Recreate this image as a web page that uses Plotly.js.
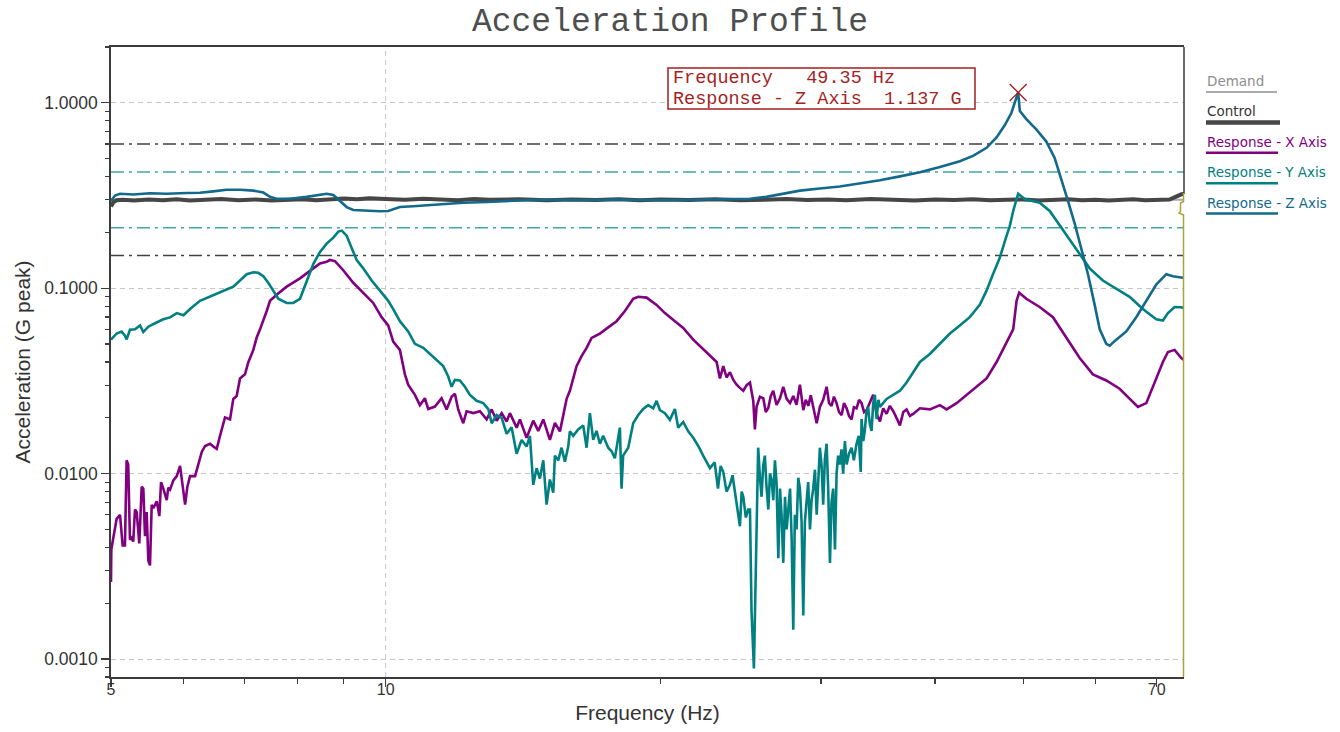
<!DOCTYPE html>
<html>
<head>
<meta charset="utf-8">
<script src="https://cdn.plot.ly/plotly-3.0.1.min.js"></script>
<style>
html,body{margin:0;padding:0;background:#fff;}
#chart{width:1340px;height:732px;}
</style>
</head>
<body>
<div id="chart"></div>
<script>
// ---- Sine sweep acceleration profile (G peak vs Hz) ----

const seriesNames = ['Demand', 'Control', 'Response - X Axis', 'Response - Y Axis', 'Response - Z Axis'];

// Demand profile
const demandFreq = [5, 75];
const demandAccel = [0.3, 0.3];

// Control channel
const controlFreq = [
  5.0, 5.03, 5.07, 5.15, 5.3, 5.5, 5.7, 5.9, 6.1, 6.3,
  6.6, 6.9, 7.2, 7.5, 7.8, 8.1, 8.4, 8.7, 9.0, 9.3,
  9.6, 10.0, 10.5, 11, 11.5, 12, 12.5, 13, 14, 15,
  16, 17, 18, 19, 20, 21.5, 23, 24.5, 26, 27.5,
  29, 30.5, 32, 34, 36, 38, 40, 42, 44, 46,
  48, 50, 52, 54, 56, 58, 60, 62, 64, 66,
  68, 70, 71.5, 72.3, 73, 73.8, 74.5, 75
];
const controlAccel = [
  0.276, 0.291, 0.298, 0.300, 0.297, 0.301, 0.298, 0.302, 0.297, 0.300,
  0.303, 0.298, 0.301, 0.297, 0.300, 0.302, 0.298, 0.303, 0.305, 0.302,
  0.306, 0.303, 0.300, 0.304, 0.301, 0.298, 0.303, 0.300, 0.302, 0.298,
  0.301, 0.299, 0.302, 0.298, 0.301, 0.299, 0.302, 0.298, 0.300, 0.303,
  0.299, 0.301, 0.298, 0.303, 0.300, 0.297, 0.301, 0.299, 0.302, 0.298,
  0.300, 0.301, 0.297, 0.299, 0.302, 0.298, 0.300, 0.297, 0.299, 0.302,
  0.298, 0.300, 0.299, 0.301, 0.307, 0.316, 0.321, 0.322
];

// Response - X axis
const xFreq = [
  5.000, 5.004, 5.029, 5.072, 5.115, 5.149, 5.179, 5.201, 5.222, 5.245,
  5.267, 5.289, 5.312, 5.335, 5.370, 5.403, 5.425, 5.448, 5.471, 5.494,
  5.517, 5.541, 5.564, 5.612, 5.649, 5.673, 5.706, 5.755, 5.778, 5.804,
  5.852, 5.903, 5.952, 5.993, 6.028, 6.063, 6.104, 6.182, 6.234, 6.287,
  6.340, 6.420, 6.473, 6.529, 6.584, 6.667, 6.752, 6.808, 6.866, 6.924,
  7.012, 7.071, 7.161, 7.222, 7.283, 7.344, 7.407, 7.469, 7.595, 7.790,
  8.056, 8.331, 8.473, 8.617, 8.690, 8.799, 8.985, 9.215, 9.450, 9.691,
  9.899, 10.065, 10.193, 10.366, 10.498, 10.585, 10.767, 10.904, 11.041, 11.135,
  11.324, 11.516, 11.663, 11.811, 11.910, 12.010, 12.163, 12.267, 12.475, 12.687,
  12.903, 13.068, 13.234, 13.403, 13.571, 13.684, 13.918, 14.034, 14.272, 14.514,
  14.699, 14.886, 15.137, 15.330, 15.525, 15.655, 15.789, 15.920, 16.054, 16.190,
  16.397, 16.606, 16.817, 17.173, 17.537, 17.912, 18.292, 18.679, 18.918, 19.322,
  19.815, 20.235, 20.752, 21.192, 21.735, 22.200, 22.671, 23.056, 23.248, 23.447,
  23.640, 23.845, 24.050, 24.250, 24.450, 24.661, 24.870, 25.080, 25.289, 25.394,
  25.503, 25.720, 25.937, 26.100, 26.268, 26.430, 26.597, 26.820, 27.054, 27.279,
  27.513, 27.750, 27.976, 28.210, 28.450, 28.693, 28.870, 29.058, 29.240, 29.421,
  29.679, 29.920, 30.170, 30.434, 30.620, 30.815, 31.000, 31.208, 31.400, 31.606,
  31.800, 32.009, 32.200, 32.409, 32.600, 32.822, 33.030, 33.240, 33.450, 33.664,
  33.950, 34.228, 34.529, 34.816, 35.100, 35.407, 35.700, 36.007, 36.300, 36.618,
  36.930, 37.239, 37.550, 37.862, 38.513, 39.494, 40.506, 41.193, 42.247, 43.323,
  44.433, 45.566, 46.733, 47.932, 48.736, 49.152, 49.480, 50.38, 52.10, 53.88,
  55.73, 57.64, 59.60, 61.64, 63.75, 65.38, 66.77, 68.19, 69.93, 71.11,
  72.02, 73.24, 74.49, 75.0
];
const xAccel = [
  0.0026, 0.0039, 0.0045, 0.0057, 0.0060, 0.0041, 0.0041, 0.0118, 0.0112, 0.0044,
  0.0045, 0.0043, 0.0064, 0.0062, 0.0042, 0.0085, 0.0083, 0.0046, 0.0062, 0.0034,
  0.0032, 0.0068, 0.0065, 0.0071, 0.0059, 0.0090, 0.0083, 0.0072, 0.0084, 0.0082,
  0.0092, 0.0097, 0.0110, 0.0083, 0.0068, 0.0085, 0.0097, 0.0097, 0.0112, 0.0131,
  0.0141, 0.0145, 0.0140, 0.0136, 0.0160, 0.0201, 0.0196, 0.0253, 0.0262, 0.0326,
  0.0343, 0.0399, 0.0465, 0.0542, 0.0600, 0.0664, 0.0754, 0.0855, 0.0922, 0.102,
  0.113, 0.128, 0.136, 0.139, 0.142, 0.140, 0.125, 0.107, 0.0946, 0.0833,
  0.0698, 0.0630, 0.0515, 0.0465, 0.0343, 0.0302, 0.0266, 0.0234, 0.0255, 0.0223,
  0.0230, 0.0255, 0.0222, 0.0260, 0.0270, 0.0222, 0.0187, 0.0217, 0.0212, 0.0217,
  0.0196, 0.0222, 0.0193, 0.0212, 0.0191, 0.0212, 0.0177, 0.0196, 0.0156, 0.0193,
  0.0170, 0.0196, 0.0152, 0.0188, 0.0169, 0.0207, 0.0253, 0.0280, 0.0326, 0.0380,
  0.0430, 0.0477, 0.0540, 0.0569, 0.0615, 0.0664, 0.0754, 0.0877, 0.0899, 0.0890,
  0.0813, 0.0734, 0.0663, 0.0610, 0.0528, 0.0477, 0.0430, 0.0400, 0.0326, 0.0380,
  0.0330, 0.0352, 0.0320, 0.0302, 0.0290, 0.0280, 0.0300, 0.0310, 0.0247, 0.0173,
  0.0230, 0.0260, 0.0255, 0.0215, 0.0226, 0.0262, 0.0280, 0.0235, 0.0255, 0.0294,
  0.0253, 0.0240, 0.0262, 0.0235, 0.0302, 0.0220, 0.0250, 0.0232, 0.0265, 0.0229,
  0.0187, 0.0229, 0.0250, 0.0294, 0.0240, 0.0232, 0.0260, 0.0240, 0.0215, 0.0207,
  0.0240, 0.0225, 0.0205, 0.0196, 0.0228, 0.0225, 0.0250, 0.0240, 0.0215, 0.0220,
  0.0245, 0.0266, 0.0210, 0.0191, 0.0225, 0.0210, 0.0232, 0.0217, 0.0200, 0.0182,
  0.0215, 0.0222, 0.0205, 0.0210, 0.0225, 0.0222, 0.0234, 0.0222, 0.0240, 0.0266,
  0.0294, 0.0326, 0.0400, 0.0515, 0.0600, 0.0855, 0.0946, 0.0877, 0.0792, 0.0698,
  0.0542, 0.0420, 0.0343, 0.0318, 0.0287, 0.0253, 0.0229, 0.0240, 0.0326, 0.0400,
  0.0453, 0.0465, 0.0420, 0.0410
];

// Response - Y axis
const yFreq = [
  5.000, 5.072, 5.136, 5.179, 5.201, 5.245, 5.312, 5.380, 5.425, 5.494,
  5.588, 5.706, 5.804, 5.903, 6.004, 6.104, 6.259, 6.420, 6.584, 6.693,
  6.808, 6.924, 7.043, 7.161, 7.252, 7.344, 7.436, 7.530, 7.626, 7.790,
  7.920, 8.056, 8.192, 8.331, 8.473, 8.617, 8.763, 8.874, 8.952, 9.063,
  9.178, 9.295, 9.450, 9.653, 9.857, 10.065, 10.193, 10.366, 10.585, 10.767,
  10.996, 11.182, 11.373, 11.564, 11.711, 11.811, 11.910, 12.061, 12.215, 12.370,
  12.580, 12.793, 12.956, 13.068, 13.234, 13.403, 13.571, 13.743, 13.918, 14.095,
  14.272, 14.392, 14.514, 14.637, 14.759, 14.886, 15.011, 15.137, 15.266, 15.330,
  15.459, 15.589, 15.721, 15.854, 15.920, 16.054, 16.258, 16.465, 16.606, 16.745,
  16.885, 17.026, 17.173, 17.316, 17.537, 17.686, 17.834, 18.060, 18.137, 18.210,
  18.445, 18.679, 18.918, 19.155, 19.399, 19.645, 19.815, 19.980, 20.235, 20.492,
  20.752, 20.926, 21.192, 21.460, 21.735, 22.011, 22.286, 22.671, 22.943, 23.135,
  23.290, 23.447, 23.640, 23.845, 24.000, 24.144, 24.300, 24.452, 24.560, 24.661,
  24.820, 24.972, 25.080, 25.180, 25.330, 25.460, 25.605, 25.720, 25.825, 25.930,
  26.040, 26.150, 26.268, 26.380, 26.486, 26.600, 26.710, 26.820, 26.940, 27.054,
  27.160, 27.279, 27.400, 27.513, 27.630, 27.750, 27.860, 27.976, 28.090, 28.210,
  28.330, 28.450, 28.570, 28.693, 28.810, 28.930, 29.050, 29.180, 29.300, 29.421,
  29.550, 29.679, 29.800, 29.920, 30.050, 30.170, 30.300, 30.434, 30.560, 30.690,
  30.810, 30.940, 31.080, 31.208, 31.330, 31.460, 31.600, 31.730, 31.870, 32.009,
  32.200, 32.409, 32.600, 32.822, 33.000, 33.170, 33.240, 33.380, 33.510, 33.650,
  33.790, 33.940, 34.090, 34.230, 34.370, 34.529, 34.680, 34.816, 35.407, 36.007,
  36.618, 37.239, 37.862, 38.513, 39.494, 40.506, 41.540, 42.590, 43.680, 44.790,
  45.566, 46.310, 47.090, 47.932, 48.300, 48.736, 49.152, 49.350, 50.160, 52.100,
  53.440, 54.810, 56.210, 57.640, 59.110, 61.110, 63.220, 65.380, 67.600, 69.930,
  71.110, 72.020, 73.240, 74.490, 75.000
];
const yAccel = [
  0.0528, 0.0570, 0.0584, 0.0555, 0.0530, 0.0597, 0.0600, 0.0630, 0.0580, 0.0620,
  0.0647, 0.0680, 0.0696, 0.0734, 0.0715, 0.0772, 0.0855, 0.0899, 0.0946, 0.0985,
  0.102, 0.110, 0.119, 0.122, 0.121, 0.116, 0.107, 0.097, 0.0877, 0.0833,
  0.0833, 0.0877, 0.110, 0.135, 0.157, 0.174, 0.1875, 0.202, 0.2045, 0.192,
  0.165, 0.142, 0.128, 0.110, 0.097, 0.0855, 0.0772, 0.0664, 0.0585, 0.0501,
  0.0477, 0.0442, 0.0410, 0.0380, 0.0334, 0.0294, 0.0320, 0.0318, 0.0294, 0.0266,
  0.0247, 0.0240, 0.0223, 0.0187, 0.0207, 0.0200, 0.0164, 0.0178, 0.0128, 0.0152,
  0.0140, 0.0160, 0.0087, 0.0107, 0.0094, 0.0118, 0.0068, 0.0093, 0.0079, 0.0125,
  0.0118, 0.0138, 0.0116, 0.0140, 0.0169, 0.0160, 0.0173, 0.0182, 0.0138, 0.0212,
  0.0152, 0.0170, 0.0145, 0.0160, 0.0138, 0.0132, 0.0121, 0.0177, 0.0083, 0.0125,
  0.0138, 0.0187, 0.0207, 0.0223, 0.0234, 0.0225, 0.0247, 0.0220, 0.0212, 0.0195,
  0.0223, 0.0177, 0.0190, 0.0169, 0.0156, 0.0141, 0.0125, 0.0107, 0.0115, 0.0083,
  0.0110, 0.0102, 0.0080, 0.0087, 0.0098, 0.0079, 0.0062, 0.0052, 0.0080, 0.0075,
  0.0058, 0.0064, 0.0064, 0.0018, 0.00089, 0.0030, 0.0138, 0.0095, 0.0075, 0.0110,
  0.0125, 0.0085, 0.0064, 0.0100, 0.0093, 0.0072, 0.0118, 0.0090, 0.0035, 0.0083,
  0.0060, 0.0033, 0.0075, 0.0050, 0.0068, 0.0083, 0.0045, 0.00144, 0.0060, 0.0050,
  0.0095, 0.0083, 0.0055, 0.00172, 0.0055, 0.0068, 0.0090, 0.0050, 0.0072, 0.0083,
  0.0105, 0.0060, 0.0090, 0.0138, 0.0110, 0.0068, 0.0120, 0.0145, 0.0080, 0.0033,
  0.0070, 0.0083, 0.0039, 0.0100, 0.0125, 0.0112, 0.0135, 0.0100, 0.0150, 0.0112,
  0.0128, 0.0138, 0.0118, 0.0145, 0.0160, 0.0102, 0.0197, 0.0150, 0.0170, 0.0215,
  0.0229, 0.0185, 0.0170, 0.0240, 0.0266, 0.0197, 0.0250, 0.0229, 0.0253, 0.0266,
  0.0280, 0.0310, 0.0352, 0.0400, 0.0442, 0.0501, 0.0570, 0.0630, 0.0698, 0.0813,
  0.0970, 0.119, 0.145, 0.192, 0.215, 0.261, 0.300, 0.323, 0.303, 0.289,
  0.261, 0.218, 0.183, 0.153, 0.128, 0.110, 0.0995, 0.0899, 0.0772, 0.0680,
  0.0670, 0.0734, 0.0792, 0.0790, 0.0780
];

// Response - Z axis
const zFreq = [
  5.000, 5.051, 5.115, 5.289, 5.517, 5.755, 6.052, 6.259, 6.473, 6.693,
  6.924, 7.161, 7.344, 7.469, 7.595, 7.854, 8.192, 8.473, 8.617, 8.763,
  8.915, 9.063, 9.215, 9.531, 9.857, 10.065, 10.366, 10.718, 11.182, 11.663,
  12.163, 12.903, 13.800, 14.637, 15.525, 16.465, 17.912, 19.480, 21.192, 23.056,
  25.080, 26.140, 27.054, 28.450, 29.920, 31.460, 33.170, 34.816, 36.618, 38.513,
  40.506, 42.590, 44.040, 45.566, 46.733, 47.700, 48.510, 49.152, 49.350, 49.560,
  50.380, 51.660, 52.990, 54.110, 55.030, 55.960, 56.910, 57.880, 58.860, 59.860,
  60.630, 61.640, 62.170, 63.220, 64.830, 66.480, 68.190, 69.930, 71.720, 72.920,
  74.770, 75.000
];
const zAccel = [
  0.296, 0.316, 0.323, 0.320, 0.325, 0.323, 0.326, 0.327, 0.333, 0.340,
  0.340, 0.336, 0.328, 0.311, 0.304, 0.304, 0.311, 0.318, 0.323, 0.318,
  0.296, 0.274, 0.264, 0.261, 0.260, 0.261, 0.274, 0.277, 0.281, 0.285,
  0.289, 0.292, 0.296, 0.300, 0.300, 0.298, 0.301, 0.298, 0.299, 0.301,
  0.304, 0.311, 0.320, 0.336, 0.345, 0.354, 0.368, 0.382, 0.401, 0.422,
  0.451, 0.484, 0.517, 0.572, 0.650, 0.756, 0.881, 1.079, 1.137, 0.904,
  0.817, 0.719, 0.618, 0.504, 0.391, 0.296, 0.224, 0.165, 0.119, 0.0813,
  0.060, 0.0501, 0.049, 0.0528, 0.0585, 0.0698, 0.0855, 0.1047, 0.119, 0.116,
  0.114, 0.114
];

// Tolerance bands around the 0.3 G demand (abort +/-6 dB, alarm +/-3 dB)
const abortLimits = [0.599, 0.150];
const alarmLimits = [0.424, 0.212];

// Axis ticks
const xRange = [5, 75];
const yRange = [0.0008, 2];
const xTickVals = [5, 10, 70];
const xTickText = ['5', '10', '70'];
const xMinorVals = [6, 7, 8, 9, 20, 30, 40, 50, 60];
const xGridVals = [10];
const yTickVals = [0.001, 0.01, 0.1, 1];
const yTickText = ['0.0010', '0.0100', '0.1000', '1.0000'];
const yMinorVals = [0.0008, 0.0009, 0.002, 0.003, 0.004, 0.005, 0.006, 0.007, 0.008, 0.009,
  0.02, 0.03, 0.04, 0.05, 0.06, 0.07, 0.08, 0.09, 0.2, 0.3, 0.4, 0.5, 0.6, 0.7, 0.8, 0.9, 2];

// ---- styling ----
const COLORS = {
  demand: '#a9a9a9', demandText: '#8e8e8e',
  control: '#464646',
  x: '#800080', y: '#008080', z: '#12698b',
  abort: '#404040', alarm: '#3fa7a7',
  cursor: '#a61f1f', edge: '#aaa23a', axis: '#3c3c3c', grid: '#c6c6c6'
};

// plot box in page pixels
const BOX = {l: 111, r: 1184, t: 47, b: 677};
const px = v => (v - BOX.l) / (BOX.r - BOX.l);
const py = v => (BOX.b - v) / (BOX.b - BOX.t);

const traces = [];

// 10 Hz grid line
xGridVals.forEach(g => traces.push({
  x: [g, g], y: yRange, mode: 'lines', hoverinfo: 'skip', showlegend: false,
  line: {color: COLORS.grid, width: 1, dash: '5px,4px'}
}));

// limit lines
abortLimits.forEach(v => traces.push({
  x: xRange, y: [v, v], mode: 'lines', hoverinfo: 'skip', showlegend: false,
  line: {color: COLORS.abort, width: 1.5, dash: '13px,5px,3px,5px'}
}));
alarmLimits.forEach(v => traces.push({
  x: xRange, y: [v, v], mode: 'lines', hoverinfo: 'skip', showlegend: false,
  line: {color: COLORS.alarm, width: 1.5, dash: '13px,5px,3px,5px'}
}));

const seriesStyle = [
  {x: demandFreq, y: demandAccel, color: COLORS.demand, width: 2},
  {x: controlFreq, y: controlAccel, color: COLORS.control, width: 4},
  {x: xFreq, y: xAccel, color: COLORS.x, width: 2.6},
  {x: yFreq, y: yAccel, color: COLORS.y, width: 2.6},
  {x: zFreq, y: zAccel, color: COLORS.z, width: 2.6}
];
seriesStyle.forEach((s, i) => traces.push({
  x: s.x, y: s.y, name: seriesNames[i], mode: 'lines', showlegend: false,
  line: {color: s.color, width: s.width}
}));

// cursor at the Z-axis resonance peak
const iPeak = zAccel.indexOf(Math.max(...zAccel));
const peakFreq = zFreq[iPeak];
const peakAccel = zAccel[iPeak];
traces.push({
  x: [peakFreq], y: [peakAccel], mode: 'markers', showlegend: false, hoverinfo: 'skip',
  marker: {symbol: 'x-thin', size: 17, line: {color: COLORS.cursor, width: 1.4}}
});

const NB = '\u00a0';
const mono = 'Liberation Mono, Courier New, monospace';
const sans = 'Liberation Sans, Arial, sans-serif';
const legendFont = 'DejaVu Sans, Verdana, sans-serif';

const annotations = [
  {xref: 'paper', yref: 'paper', x: px(671), y: py(78), xanchor: 'left', yanchor: 'middle',
   text: 'Frequency' + NB.repeat(3) + peakFreq.toFixed(2) + NB + 'Hz', showarrow: false,
   font: {family: mono, size: 18.5, color: COLORS.cursor}},
  {xref: 'paper', yref: 'paper', x: px(671), y: py(99), xanchor: 'left', yanchor: 'middle',
   text: seriesNames[4].replace(/ /g, NB) + NB.repeat(2) + peakAccel.toFixed(3) + NB + 'G', showarrow: false,
   font: {family: mono, size: 18.5, color: COLORS.cursor}}
];

const shapes = [
  // cursor readout box
  {type: 'rect', xref: 'paper', yref: 'paper', x0: px(668), x1: px(975), y0: py(68), y1: py(109),
   line: {color: COLORS.cursor, width: 1.5}, fillcolor: '#ffffff', layer: 'above'},
  // right frame edge
  {type: 'line', xref: 'paper', yref: 'paper', x0: 1, x1: 1, y0: 1, y1: py(194),
   line: {color: COLORS.axis, width: 1.5}, layer: 'above'},
  // sweep end marker along the right edge
  {type: 'path', xref: 'paper', yref: 'paper', layer: 'above',
   path: 'M' + px(1183.5) + ',' + py(193) + ' L' + px(1183.5) + ',' + py(201.5) +
         ' L' + px(1180.5) + ',' + py(203) + ' L' + px(1180.5) + ',' + py(211.5) +
         ' L' + px(1179) + ',' + py(213) + ' L' + px(1183.5) + ',' + py(215) +
         ' L' + px(1183.5) + ',' + py(677),
   line: {color: COLORS.edge, width: 1.5}}
];

// custom legend: label with a line beneath it
const legendColors = [
  {text: COLORS.demandText, line: COLORS.demand, width: 2, end: 1277},
  {text: '#333333', line: COLORS.control, width: 4.5, end: 1280},
  {text: COLORS.x, line: COLORS.x, width: 2.5, end: 1278},
  {text: COLORS.y, line: COLORS.y, width: 2.5, end: 1278},
  {text: COLORS.z, line: COLORS.z, width: 2.5, end: 1278}
];
seriesNames.forEach((name, i) => {
  const yc = 81 + i * 30.4;
  annotations.push({
    xref: 'paper', yref: 'paper', x: px(1205), y: py(yc), xanchor: 'left', yanchor: 'middle',
    text: name, showarrow: false, font: {family: legendFont, size: 13.5, color: legendColors[i].text}
  });
  shapes.push({
    type: 'line', xref: 'paper', yref: 'paper', x0: px(1206), x1: px(legendColors[i].end),
    y0: py(yc + 11), y1: py(yc + 11),
    line: {color: legendColors[i].line, width: legendColors[i].width}
  });
});

const layout = {
  width: 1340, height: 732,
  margin: {l: BOX.l, r: 1340 - BOX.r, t: BOX.t, b: 732 - BOX.b, pad: 0},
  paper_bgcolor: '#ffffff', plot_bgcolor: '#ffffff',
  showlegend: false,
  title: {
    text: 'Acceleration Profile', x: 0.5, xref: 'container', y: 1 - 19 / 732, yref: 'container',
    xanchor: 'center', yanchor: 'middle',
    font: {family: mono, size: 33, color: '#4e4e4e'}
  },
  xaxis: {
    type: 'log', range: xRange.map(Math.log10),
    tickmode: 'array', tickvals: xTickVals, ticktext: xTickText,
    ticks: 'outside', ticklen: 8, tickwidth: 1.2, tickcolor: COLORS.axis,
    ticklabelstandoff: -11,
    showgrid: false, zeroline: false,
    showline: true, linecolor: COLORS.axis, linewidth: 1.8, mirror: true,
    minor: {tickmode: 'array', tickvals: xMinorVals, ticks: 'outside', ticklen: 5, tickwidth: 1.2, tickcolor: COLORS.axis, showgrid: false},
    tickfont: {family: sans, size: 16, color: '#333333'},
    title: {text: 'Frequency (Hz)', font: {family: sans, size: 21, color: '#333333'}, standoff: 8}
  },
  yaxis: {
    type: 'log', range: yRange.map(Math.log10),
    tickmode: 'array', tickvals: yTickVals, ticktext: yTickText,
    ticks: 'outside', ticklen: 8, tickwidth: 1.2, tickcolor: COLORS.axis,
    showgrid: true, gridcolor: COLORS.grid, gridwidth: 1, griddash: '5px,4px',
    zeroline: false, showline: true, linecolor: COLORS.axis, linewidth: 1.8, mirror: false,
    minor: {tickmode: 'array', tickvals: yMinorVals, ticks: 'outside', ticklen: 4, tickwidth: 1.2, tickcolor: COLORS.axis, showgrid: false},
    tickfont: {family: sans, size: 17.5, color: '#333333'},
    title: {text: 'Acceleration (G peak)', font: {family: sans, size: 21, color: '#333333'}, standoff: 8}
  },
  annotations: annotations,
  shapes: shapes
};

Plotly.newPlot('chart', traces, layout, {displayModeBar: false, staticPlot: true});
</script>
</body>
</html>
